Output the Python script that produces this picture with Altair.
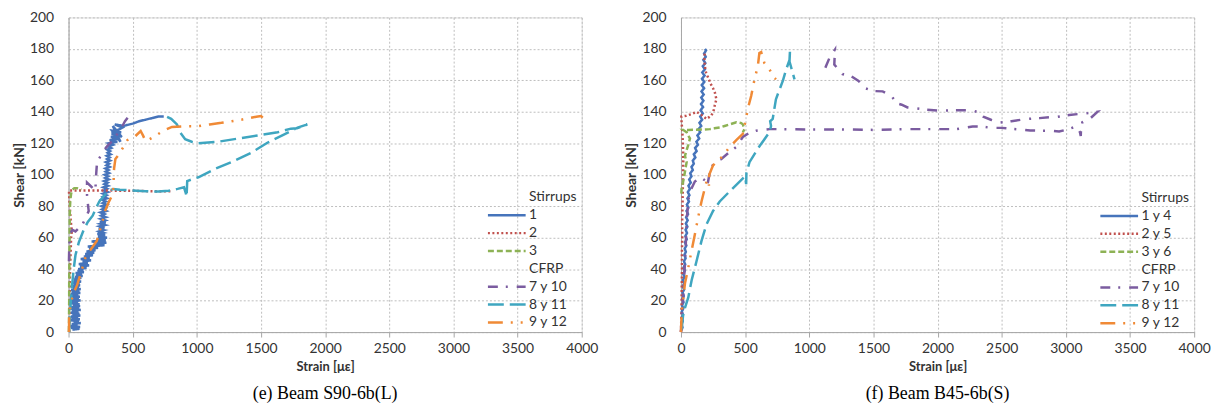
import altair as alt
import pandas as pd

# ---------------- categories / styles ----------------
# legend entries as in the original workbook: group headers are entries without a line
E_NAMES = ["Stirrups", "1", "2", "3", "CFRP", "7 y 10", "8 y 11", "9 y 12"]
F_NAMES = ["Stirrups", "1 y 4", "2 y 5", "3 y 6", "CFRP", "7 y 10", "8 y 11", "9 y 12"]
COLORS = ["transparent", "#4674BB", "#C0504D", "#8DB255", "transparent", "#7B5CA0", "#3FA6C0", "#F08A36"]
DASHES = [[1, 0], [1, 0], [2, 2.5], [6, 3], [1, 0], [10, 8, 2, 9], [16, 6], [15, 8, 2, 8, 2, 8]]
X_TICKS = [0, 500, 1000, 1500, 2000, 2500, 3000, 3500, 4000]
Y_TICKS = [0, 20, 40, 60, 80, 100, 120, 140, 160, 180, 200]
CAPTIONS = ["(e) Beam S90-6b(L)", "(f) Beam B45-6b(S)"]

# ---------------- panel (e) ----------------
E1_X = [30, 85, 20, 90, 15, 70, 25, 95, 40, 80, 12, 88, 22, 75, 18, 92, 30, 85, 15, 78, 28, 95, 20, 82, 12, 90,
        35, 86, 18, 74, 25, 94, 14, 80, 30, 88, 20, 76, 16, 92, 26, 84, 20, 95, 32, 80, 24, 90, 38, 86, 30, 98,
        40, 88, 45, 100, 50, 110, 60, 105, 55, 120, 70, 115,
        75, 140, 90, 160, 80, 150, 110, 175, 95, 165, 120, 190, 130, 200, 140, 210, 160, 230, 150, 280, 200,
        295, 180, 290, 220, 300, 230, 285, 225, 270, 240, 275, 235, 280, 245, 285, 250, 290,
        245, 285, 250, 290, 255, 280, 250, 292, 262, 288, 258, 296, 266, 290, 262, 300, 270, 296, 268, 305,
        275, 300, 272, 308, 280, 304, 278, 312, 285, 308, 283, 315, 290, 312, 288, 320, 295, 316, 292, 324,
        300, 320, 298, 328, 305, 324, 302, 332, 310, 345, 315, 380, 320, 395, 330, 400, 335, 410, 340,
        405, 345, 415, 350, 420, 360, 430, 450, 500, 550, 600, 650, 700, 742]
E1_Y = [1.5, 2.1, 2.7, 3.3, 3.9, 4.5, 5.1, 5.7, 6.3, 6.9, 7.5, 8.1, 8.7, 9.3, 9.9, 10.5, 11.1, 11.7, 12.3, 12.9,
        13.5, 14.1, 14.7, 15.3, 15.9, 16.5, 17.1, 17.7, 18.3, 18.9, 19.5, 20.1, 20.7, 21.3, 21.9, 22.5, 23.1,
        23.7, 24.3, 24.9, 25.5, 26.1, 26.7, 27.3, 27.9, 28.5, 29.1, 29.7, 30.3, 30.9, 31.5, 32.1, 32.7, 33.3,
        33.9, 34.5, 35.1, 35.7, 36.3, 36.9, 37.5, 38.1, 38.7, 39.3,
        40, 40.8, 41.6, 42.4, 43.2, 44, 44.8, 45.6, 46.4, 47.2, 48, 48.8, 49.6, 50.4, 51.2, 52, 52.8, 53.6,
        54.4, 55.2, 56, 56.8, 57.6, 58.4, 59.2, 60, 60.8, 61.6, 62.4, 63.2, 64, 64.8, 65.6, 66.4, 67.2, 68,
        68.8, 69.6,
        70, 71, 72, 73, 74, 75, 76, 77, 78, 79, 80, 81, 82, 83, 84, 85, 86, 87, 88, 89, 90, 91, 92, 93, 94,
        95, 96, 97, 98, 99, 100, 101, 102, 103, 104, 105, 106, 107, 108, 109, 110, 111, 112, 113, 114, 115,
        116, 117, 118, 119, 120, 121, 122, 123, 124, 125, 126, 127, 128,
        121, 131, 124, 127, 130, 132, 131, 131.5, 132.5, 134, 135, 136, 137, 137]

E2_X = [5, 6, 8, 10, 12, 15, 18, 20, 25, 18, 12, 8, 5, 3, 100, 200, 300, 400, 500, 600, 700, 805]
E2_Y = [0, 10, 20, 30, 40, 48, 55, 60, 64, 70, 76, 82, 87, 90, 90, 90, 90, 89.8, 89.8, 89.6, 89.4, 89.6]

E3_X = [3, 4, 5, 5, 6, 7, 8, 9, 10, 14, 20, 30, 45, 65, 90, 100]
E3_Y = [0, 10, 20, 30, 40, 50, 60, 70, 78, 84, 88, 90.5, 91.5, 91.5, 90.8, 90.5]

E7_X = [3, 5, 8, 15, 30, 54, 80, 106, 130, 157, 150, 144, 144, 170, 209, 215, 222, 250, 280, 310, 337, 365,
        380, 420, 440, 471, 490, 500]
E7_Y = [45, 52, 58, 63, 65, 64, 66, 68, 72, 77, 82, 87, 95, 93, 90, 100, 108, 112, 116, 119, 121, 124,
        126, 131, 134, 137.3, 137.5, 136.5]

E8_X = [5, 10, 18, 28, 40, 54, 80, 118, 150, 188, 215, 240, 270, 291, 320, 350, 400, 500, 600, 700, 780,
        850, 900, 915, 920, 925, 960, 1012, 1141, 1296, 1424, 1553, 1682, 1785, 1862, 1780, 1733, 1630,
        1476, 1321, 1167, 1012, 960, 909, 871, 845, 800, 755]
E8_Y = [0, 10, 20, 30, 40, 49, 57, 65, 70, 74, 79, 83, 86, 88, 90, 91, 90.5, 90, 89.5, 89.3, 89.8,
        91, 92, 88, 86, 96, 97, 98.4, 103.7, 109, 114, 120.5, 125.7, 130, 132, 129.5, 129.3, 127,
        125, 123, 121, 120, 121, 122.6, 126.8, 132, 135.5, 137.3]

E9_X = [3, 4, 5, 15, 35, 67, 90, 105, 130, 160, 195, 220, 240, 255, 270, 285, 310, 340, 350, 352, 355, 365,
        394, 430, 458, 520, 562, 580, 600, 620, 677, 740, 806, 900, 1012, 1100, 1192, 1270, 1347, 1420,
        1463, 1500, 1514]
E9_Y = [0, 5, 10, 17, 24, 30, 36, 40, 47, 51, 55, 58, 63, 68, 72, 77, 82, 87, 92, 98, 104, 110,
        113, 118, 122, 124.5, 127.8, 125, 121.5, 122, 124.7, 128, 130.4, 130.8, 130.9, 132, 133, 134, 135, 136.2,
        136.9, 137.3, 136.3]

# ---------------- panel (f) ----------------
F1_X = [2, 12, 3, 14, 5, 16, 6, 18, 8, 20, 10, 22, 12, 24, 14, 26, 15, 28, 17, 30, 20, 33, 23, 36, 26, 38,
        29, 42, 31, 45, 34, 47, 36, 50, 38, 52, 40, 55, 43, 58, 46, 62, 50, 66, 53, 70, 58, 76, 64, 82,
        72, 92, 82, 100, 92, 112, 100, 122, 110, 132, 120, 142, 128, 150, 136, 158, 144, 165, 150, 170,
        153, 172, 156, 175, 158, 177, 160, 180, 162, 182, 164, 184, 166, 186, 170, 190, 174, 193, 180, 195, 186]
F1_Y = [1, 3, 5, 7, 9, 11, 13, 15, 17, 19, 21, 23, 25, 27, 29, 31, 33, 35, 37, 39, 41, 43, 45, 47, 49, 51,
        53, 55, 57, 59, 61, 63, 65, 67, 69, 71, 73, 75, 77, 79, 81, 83, 85, 87, 89, 91, 93, 95, 97, 99,
        101, 103, 105, 107, 109, 111, 113, 115, 117, 119, 121, 123, 125, 127, 129, 131, 133, 135, 137, 139,
        141, 143, 145, 147, 149, 151, 153, 155, 157, 159, 161, 163, 165, 167, 169, 171, 173, 175, 177, 179, 180]

F2_X = [0, 3, 5, 6, 8, 7, 10, 9, 12, 14, 16, 18, 15, 10, 5, 3, 40, 80, 121, 160, 199, 237, 255, 263, 276,
        265, 250, 230, 212, 195, 186, 182, 186]
F2_Y = [0, 10, 20, 30, 40, 50, 60, 70, 80, 90, 100, 110, 120, 128, 133, 137, 137.5, 138.5, 140, 138, 135.5,
        137.6, 141, 144, 148, 152, 155, 158, 161.7, 165, 169, 174, 178]

F3_X = [3, 5, 15, 25, 35, 44, 31, 45, 57, 70, 55, 44, 18, 60, 120, 180, 225, 260, 302, 340, 379, 431, 470,
        482, 495, 482]
F3_Y = [88, 92, 95, 99, 104, 108, 112, 116, 119, 123, 125, 127, 128.5, 128.5, 128.6, 128.8, 129, 129.5, 130,
        131, 132, 133.4, 132.8, 132, 129, 127]

F7_X = [0, 5, 15, 25, 35, 40, 45, 60, 83, 108, 130, 160, 199, 205, 230, 263, 315, 379, 431, 482, 530, 586,
        689, 792, 1000, 1250, 1508, 1766, 2000, 2149, 2273, 2356, 2420, 2497, 2575, 2640, 2722, 2807, 2871,
        2948, 3020, 3082, 3110, 3116, 3118, 3129, 3194, 3246, 3160, 3098, 3026, 2936, 2871, 2794, 2717, 2653,
        2575, 2484, 2420, 2356, 2317, 2273, 2149, 2025, 1900, 1766, 1720, 1680, 1642, 1572, 1500, 1435, 1384,
        1325, 1259, 1195, 1200, 1156, 1130, 1104]
F7_Y = [0, 10, 20, 35, 50, 62, 72, 85, 91.5, 95.7, 97, 98, 95.7, 93, 104, 108, 110, 114.5, 117.7, 124, 126.5,
        128, 129, 129, 128.8, 128.8, 128.5, 129, 129, 129, 130.7, 130.5, 129.8, 129.8, 129.2, 128.8, 128.2, 128,
        128, 127.5, 129, 130.7, 127, 124.6, 129, 133.4, 136.1, 140, 139, 138.6, 138, 136.8, 136.5, 136, 135.6,
        135, 134, 133.2, 134.8, 136.9, 139.6, 141, 141, 140.7, 141.5, 142.8, 144.5, 145.5, 150, 153, 153.2,
        155, 159.6, 162.7, 164, 170, 179.5, 174, 169, 163.4]

F8_X = [5, 18, 57, 83, 121, 160, 199, 250, 302, 379, 457, 500, 508, 510, 534, 599, 663, 690, 702, 695, 715,
        740, 795, 820, 846, 850, 846, 870, 885]
F8_Y = [1.5, 12, 22, 33, 45, 58, 68.5, 77, 83, 89.4, 95.7, 99, 94, 101, 108, 116.6, 124, 127, 131, 134,
        135.5, 148, 160, 167, 173, 179.5, 172, 165, 160.6]

F9_X = [0, 5, 31, 57, 83, 108, 134, 160, 199, 215, 218, 220, 250, 328, 379, 431, 482, 495, 510, 521, 547,
        573, 599, 611, 625, 650, 689, 728, 740]
F9_Y = [0, 12, 31, 41, 52, 62, 73, 83, 95.7, 97, 93, 100, 106, 112, 117.7, 122, 126, 131, 137, 142, 150,
        160.6, 169, 177.4, 178, 171, 167, 161.7, 160.6]

# series index in the name lists -> data
E_SERIES = {1: (E1_X, E1_Y), 2: (E2_X, E2_Y), 3: (E3_X, E3_Y), 5: (E7_X, E7_Y), 6: (E8_X, E8_Y), 7: (E9_X, E9_Y)}
F_SERIES = {1: (F1_X, F1_Y), 2: (F2_X, F2_Y), 3: (F3_X, F3_Y), 5: (F7_X, F7_Y), 6: (F8_X, F8_Y), 7: (F9_X, F9_Y)}

FONT = "Lato"
TEXT = "#333333"
GRID = "#BDBDBD"


def frame(names, series):
    rows = []
    for i, (xs, ys) in series.items():
        for k, (x, y) in enumerate(zip(xs, ys)):
            rows.append({"series": names[i], "strain": x, "shear": y, "idx": k})
    return pd.DataFrame(rows)


def legend(row_h, top):
    return alt.Legend(
        title=None, orient="none", legendX=421, legendY=top,
        symbolType="stroke", symbolSize=1444, symbolStrokeWidth=2.5, clipHeight=row_h,
        labelFont=FONT, labelFontSize=14, labelColor=TEXT, labelOffset=2,
        padding=0, rowPadding=0,
    )


def panel(names, series, caption, row_h, top):
    x_enc = alt.X("strain:Q", scale=alt.Scale(domain=[0, 4000], nice=False),
                  axis=alt.Axis(values=X_TICKS, format="d", title="Strain [με]", grid=True, labelFlush=False,
                                gridDash=[2, 2], gridColor=GRID, domainColor="#A6A6A6", tickColor="#A6A6A6",
                                tickSize=5, labelPadding=5, labelFont=FONT, labelFontSize=14,
                                labelColor=TEXT, titleFont=FONT, titleFontSize=13, titleFontWeight="bold",
                                titleColor=TEXT, titlePadding=5))
    y_enc = alt.Y("shear:Q", scale=alt.Scale(domain=[0, 200], nice=False),
                  axis=alt.Axis(values=Y_TICKS, format="d", title="Shear [kN]", grid=True, labelFlush=False,
                                gridDash=[2, 2], gridColor=GRID, domainColor="#A6A6A6", ticks=False,
                                tickSize=0, labelPadding=15, labelFont=FONT, labelFontSize=14,
                                labelColor=TEXT, titleFont=FONT, titleFontSize=14, titleFontWeight="bold",
                                titleColor=TEXT, titlePadding=3))
    return alt.Chart(frame(names, series)).mark_line(strokeWidth=2.5).encode(
        x=x_enc, y=y_enc,
        color=alt.Color("series:N", scale=alt.Scale(domain=names, range=COLORS),
                        legend=legend(row_h, top)),
        strokeDash=alt.StrokeDash("series:N", scale=alt.Scale(domain=names, range=DASHES),
                                  legend=legend(row_h, top)),
        order=alt.Order("idx:Q"),
    ).properties(
        width=517, height=317,
        title=alt.TitleParams(caption, orient="bottom", anchor="middle", font="Liberation Serif",
                              fontSize=18, fontWeight="normal", color="black", offset=11),
    )


chart = alt.hconcat(
    panel(E_NAMES, E_SERIES, CAPTIONS[0], 17.6, 172.5),
    panel(F_NAMES, F_SERIES, CAPTIONS[1], 18, 173),
    spacing=26,
).resolve_scale(color="independent", strokeDash="independent").properties(
    padding={"left": 4, "top": 0, "right": 5, "bottom": 5}
).configure_view(stroke=None).configure(background="white")

chart.save("out.html", embed_options={"renderer": "svg", "actions": False})
